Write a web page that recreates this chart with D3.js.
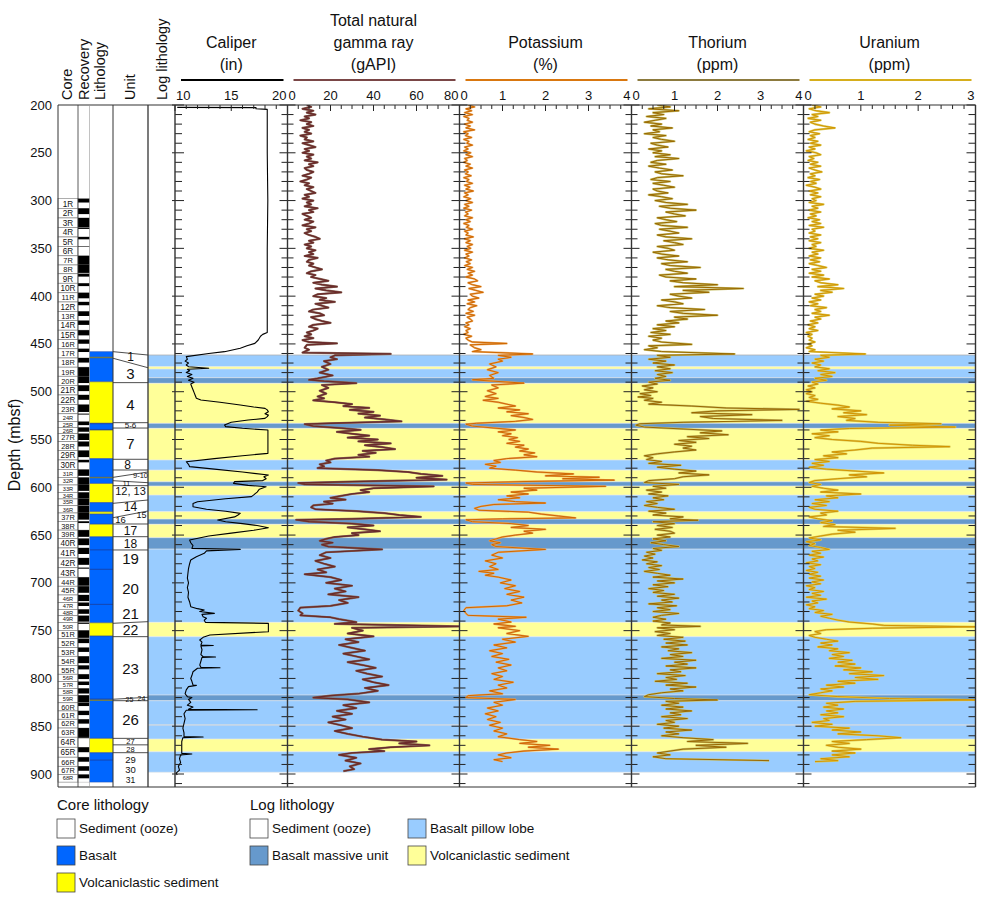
<!DOCTYPE html>
<html><head><meta charset="utf-8">
<script src="https://cdn.jsdelivr.net/npm/d3@7"></script>
<style>body{margin:0;background:#fff;} svg{display:block;font-family:"Liberation Sans",Arial,Helvetica,sans-serif;}</style>
</head><body><svg id="chart" width="988" height="898"></svg>
<script>
// ---------------- DATA ----------------
const depthTicks = [200,250,300,350,400,450,500,550,600,650,700,750,800,850,900];

const coreTops = [298.0,308.1,318.2,328.2,338.1,347.9,357.8,367.4,376.6,386.5,396.5,406.1,415.9,425.6,435.6,445.5,
455.1,464.7,474.3,483.8,493.3,503.4,513.5,523.1,531.3,537.4,543.8,552.2,561.5,571.4,581.4,589.7,597.6,605.3,612.2,
619.3,626.9,635.6,644.8,653.6,663.5,674.0,684.2,694.1,703.5,712.7,720.7,727.7,734.4,741.7,749.7,758.4,767.7,776.8,
786.4,795.6,803.4,810.4,817.6,825.5,834.0,842.7,851.9,861.5,872.0,882.4,891.9,900.5];
const coreBase = 908.5;
const coreNames = coreTops.map((t,i)=>(i+1)+'R');
const coreRecovery = [0.4,0.6,0.95,0.15,0.25,0.05,1.0,0.9,0.3,0.3,0.6,0.35,0.5,0.45,0.55,0.45,0.35,0.5,1.0,0.75,0.6,0.5,
0.8,0.1,0.6,0.7,0.8,0.55,0.7,0.25,0.8,1.0,0.8,1.0,1.0,1.0,0.8,0.2,0.8,0.7,0.6,0.7,0.1,0.95,0.75,0.8,0.5,0.7,0.85,0.15,
0.9,0.5,0.5,0.75,0.45,0.65,0.5,0.75,1.0,0.4,0.5,0.5,1.0,0.1,0.5,0.5,0.55,0.5];

const coreLith = [
 [458,489.5,'basalt'],[463.6,464.6,'volc'],[489.5,533,'volc'],[533,540,'basalt'],[540,570,'volc'],
 [570,596,'basalt'],[589.2,590,'volc'],[596,616,'volc'],[616,625.5,'basalt'],[625.5,628,'volc'],
 [628,638.5,'basalt'],[638.5,651.8,'volc'],[651.8,741.7,'basalt'],[741.7,755.6,'volc'],
 [755.6,862.7,'basalt'],[822.2,823,'volc'],[862.7,877.7,'volc'],[877.7,908.5,'basalt']
];
const basaltLines = [533.5,539.5,665.5,685.8,722.5,821.6,885.4];

const unitBounds = [[458.1,461.6],[465.0,474.9],[490.5,490.5],[532.4,532.4],[538,538],[570.7,570.7],[581.9,581.9],
 [589.6,584],[593.1,595.2],[598.3,598.3],[616.8,613.3],[631.8,624.8],[638.4,638.4],[651.7,651.7],[665.6,665.6],
 [742.3,740.6],[756.3,756.3],[821.8,819.7],[823.3,823.3],[862.7,862.7],[869.5,869.5],[877.7,877.7]];
const unitLabels = [['1',463.8],['3',480.8],['4',513.2],['5-6',535.2],['7',554],['8',576.3],['9-10',587.3],['11',595.6],
 ['12, 13',604.4],['14',620.0],['15',629],['16',634.2],['17',645.2],['18',658.8],['19',674.3],['20',705.7],['21',731.9],
 ['22',749.3],['23',789.4],['24',820.8],['25',821.8],['26',843.5],['27',865.6],['28',874.0],['29',884.4],['30',895.8],['31',906.0]];

const logLith = [
 [461.6,473.8,'pillow'],[473.8,476.2,'volc'],[476.2,485.3,'pillow'],[485.3,491.2,'massive'],[491.2,533,'volc'],
 [533,538.3,'massive'],[538.3,571.4,'volc'],[571.4,582,'pillow'],[582,594.2,'volc'],[594.2,598.7,'massive'],
 [598.7,608.1,'volc'],[608.1,625.5,'pillow'],[625.5,633.2,'volc'],[633.2,638.7,'massive'],[638.7,652.7,'volc'],
 [652.7,664.6,'massive'],[664.6,741.3,'pillow'],[741.3,756.3,'volc'],[756.3,817.3,'pillow'],[817.3,823.3,'massive'],
 [823.3,863.4,'pillow'],[848.3,849.1,'massive'],[863.4,876.7,'volc'],[876.7,898.2,'pillow']
];

const caliper = [[202.5,10.2],[202.7,17.2],[204,17.2],[204.6,18.2],[250,18.2],[300,18.25],[350,18.2],[400,18.2],[438,18.2],
[440,17.8],[442,17.6],[445.9,17.4],[449.4,17.1],[452,16.4],[454.6,15.8],[458.1,14.4],[460,13.0],[463.3,11.0],[466,11.1],
[468,10.9],[470,11.2],[472,11.0],[473.8,11.2],[475.5,13.0],[476.5,11.1],[478,11.3],[480,11.0],[482,11.5],[484,11.1],
[486,11.6],[488,11.2],[490,11.7],[492,11.4],[495,11.5],[498,11.6],[501,11.7],[504,11.8],[506.9,11.9],[508.7,12.3],
[511,14.0],[513.9,15.8],[516,17.0],[517.4,18.0],[519,18.2],[520.9,18.3],[523,18.0],[524.5,18.3],[526.1,18.2],[527.9,18.0],
[529.6,16.5],[532,15.0],[534.8,14.4],[536.5,14.5],[538.3,16.0],[540.1,18.26],[550,18.26],[564.5,18.26],[567,16.0],
[570,13.5],[573.2,11.0],[576,11.2],[578.4,11.3],[581,13.5],[584,16.0],[587.2,18.3],[589,17.9],[591,18.1],[593,17.8],
[594.1,15.3],[595.9,15.2],[598,16.5],[599.4,18.1],[602,17.5],[605,17.3],[608,17.0],[609.8,16.8],[612,14.5],[615.1,12.0],
[617,11.6],[620.3,11.6],[623,12.8],[625,14.5],[627.3,15.8],[629,15.6],[631,15.3],[634.3,13.8],[636,14.5],[638,16.0],
[640,17.3],[642.3,18.3],[645,17.0],[648,15.0],[651,13.0],[655.2,11.3],[658,11.4],[661,11.6],[663.9,11.5],[665,15.8],
[666.5,12.8],[669.1,12.6],[672.6,11.9],[676,11.4],[680,11.3],[685,11.2],[690,11.15],[695,11.1],[700,11.2],[705,11.1],
[710,11.2],[715,11.15],[720,11.3],[724.9,11.4],[727,12.0],[728.4,12.6],[730,12.2],[731.9,13.5],[733,12.4],[735.4,12.5],
[737,12.8],[739,12.6],[741.3,12.7],[742.4,18.3],[751.1,18.3],[754.6,13.1],[757,12.5],[759.8,12.2],[762,12.4],[765,12.3],
[765.5,13.4],[766,12.3],[770,12.4],[775,12.3],[777.2,12.5],[777.6,13.6],[778,12.4],[782,12.3],[786,12.2],[788.4,12.3],
[788.8,14.0],[789.4,12.0],[793,11.6],[797,11.5],[800,11.4],[803,11.5],[806.9,11.6],[807.3,11.9],[808.6,11.2],[812,11.0],
[816,10.9],[819.1,11.1],[820,11.5],[822,11.2],[825,11.4],[828,11.1],[830,11.6],[832.3,11.2],[832.8,17.3],[833.3,11.0],
[837,10.8],[842,10.9],[847,10.8],[852,10.7],[857,10.8],[860.9,10.8],[861.3,12.5],[862,10.7],[866,10.6],[870,10.6],
[874,10.6],[878.4,10.6],[879,11.5],[880,10.5],[884,10.4],[888,10.5],[892,10.3],[896,10.4],[899,10.1],[901,10.2]];

const gammaRay = [[200,9],[202,11],[204,7],[206,12],[208,9],[210,13],[212,8],[214,10],[216,6],[218,11],[220,9],[222,12],
[224,7],[226,10],[228,8],[230,11],[232,6],[234,9],[236,8],[238,12],[240,7],[242,10],[244,13],[246,8],[248,10],[250,7],
[252,12],[254,9],[256,11],[258,8],[260,14],[262,10],[264,12],[266,8],[268,9],[270,12],[272,10],[274,7],[276,11],[278,9],
[280,6],[282,10],[284,8],[286,12],[288,9],[290,11],[292,13],[294,8],[296,10],[298,7],[300,12],[302,9],[304,11],[306,8],
[308,14],[310,10],[312,12],[314,7],[316,9],[318,11],[320,8],[322,12],[324,10],[326,7],[328,13],[330,9],[332,11],[334,8],
[336,10],[338,13],[340,15],[342,10],[344,12],[346,8],[348,11],[350,9],[352,13],[354,10],[356,12],[358,8],[360,14],
[362,10],[364,9],[366,12],[368,10],[370,13],[372,16],[374,11],[376,9],[378,13],[380,11],[382,15],[384,19],[386,12],
[388,16],[390,23],[392,13],[394,18],[396,25],[398,14],[400,12],[402,18],[404,15],[406,22],[408,13],[410,16],[412,19],
[414,12],[416,10],[418,15],[420,17],[422,11],[424,13],[426,16],[428,20],[430,12],[432,10],[434,14],[436,12],[438,9],
[440,11],[442,8],[444,12],
[446,7],[448,10],[449.5,23],[451,9],[454,8],[456,10],[459,7],[460.5,48],[462,22],[464,20],[466,23],[468,17],[471,20],
[474,16],[477,19],[480,15],[483,21],[486,14],[487.5,10],[489,17],[491,32],[493,16],[496,19],[499,15],[502,18],[505,14],
[507,17],[509,12],[511,22],[513,30],[515,26],[517,38],[519,29],[521,40],[523,33],[525,43],[527,36],[529,45],[531,53],
[533,20],[534,8],[536,12],[538,25],[540,34],[542,23],[544,30],[546,38],[548,28],[550,42],[552,33],[554,48],[556,36],
[558,44],[560,50],[562,35],[564,41],[566,33],[568,38],[570,22],[572,18],[574,20],[576,15],[578,17],[580,14],[582,42],
[584,56],[586,62],[588,72],[590,60],[592,74],[594,30],[595.5,5],[597,8],[599,68],[601,40],[603,34],[605,38],[607,30],
[609,25],[611,20],[613,27],[615,17],[617,21],[619,12],[621,11],[623,13],[625,32],[627,45],[629,52],[631,62],[633,30],
[634,4],[636,10],[638,30],[640,40],[642,28],[644,36],[646,43],[648,30],[650,33],[652,22],[654,18],[656,15],[658,21],
[660,16],[662,19],[665,44],[668,18],[671,15],[674,20],[677,13],[680,17],[683,22],[686,14],[689,18],[691,8],[694,20],
[697,25],[700,18],[703,30],[706,22],[709,27],[712,19],[715,33],[718,24],[721,28],[724,20],[726,6],[729,5],[732,7],
[734,6],[736,20],[738,24],[741,32],[743,22],[745.5,80],[747,30],[750,35],[753,28],[756,40],[759,27],[762,33],[765,24],
[768,30],[771,36],[774,26],[777,32],[780,38],[783,28],[786,35],[789,41],[792,32],[795,37],[798,44],[801,35],[804,40],
[807,47],[810,36],[813,42],[816,33],[818,20],[820,12],[822,28],[825,38],[828,26],[831,32],[834,23],[837,30],[840,21],
[843,27],[846,19],[849,25],[852,30],[855,22],[858,28],[861,35],[864,44],[866,60],[868,52],[870,66],[872,48],[874,38],
[876,45],[878,30],[880,24],[883,32],[886,27],[889,34],[892,29],[895,31],[897,26]];

const potassium = [[200,0.2],[202,0.35],[204,0.15],[206,0.28],[208,0.12],[210,0.3],[212,0.1],[214,0.22],[216,0.18],
[218,0.3],[220,0.12],[222,0.25],[224,0.15],[226,0.35],[228,0.1],[230,0.2],[232,0.14],[234,0.28],[236,0.1],[238,0.22],
[240,0.17],[242,0.3],[244,0.12],[246,0.2],[248,0.1],[250,0.26],[252,0.15],[254,0.3],[256,0.12],[258,0.18],[260,0.1],
[262,0.25],[264,0.15],[266,0.3],[268,0.12],[270,0.2],[272,0.14],[274,0.27],[276,0.1],[278,0.22],[280,0.16],[282,0.3],
[284,0.12],[286,0.24],[288,0.15],[290,0.32],[292,0.12],[294,0.2],[296,0.1],[298,0.26],[300,0.15],[302,0.3],[304,0.12],
[306,0.22],[308,0.1],[310,0.28],[312,0.14],[314,0.2],[316,0.12],[318,0.3],[320,0.15],[322,0.25],[324,0.1],[326,0.22],
[328,0.16],[330,0.3],[332,0.12],[334,0.2],[336,0.15],[338,0.32],[340,0.12],[342,0.25],[344,0.15],[346,0.3],[348,0.18],
[350,0.26],[352,0.12],[354,0.3],[356,0.15],[358,0.22],[360,0.12],[362,0.28],[364,0.16],[366,0.25],[368,0.12],[370,0.3],
[372,0.18],[374,0.35],[376,0.2],[378,0.3],[380,0.15],[382,0.35],[384,0.42],[386,0.2],[388,0.3],[390,0.5],[392,0.22],
[394,0.38],[396,0.55],[398,0.25],[400,0.3],[402,0.45],[404,0.2],[406,0.35],[408,0.18],[410,0.4],[412,0.25],[414,0.2],
[416,0.32],[418,0.15],[420,0.35],[422,0.18],[424,0.25],[426,0.3],[428,0.15],[430,0.22],[432,0.12],[434,0.25],[436,0.15],
[438,0.2],[440,0.1],[442,0.28],[444,0.15],
[446,0.2],[448,0.3],[449.5,1.1],[451,0.25],[454,0.35],[456,0.5],[458,0.3],[460.5,1.7],[462,0.9],[464,1.2],
[466,0.9],[468,1.0],[471,0.7],[474,0.85],[477,0.65],[480,0.9],[483,0.7],[486,0.8],[487.5,0.3],[489,0.8],[491,1.5],
[493,0.75],[496,0.9],[499,0.65],[502,0.85],[505,0.6],[507,0.9],[509,0.55],[511,0.9],[513,1.1],[515,1.3],[517,0.9],
[519,1.4],[521,1.1],[523,1.6],[525,1.2],[527,1.5],[529,1.7],[531,1.3],[533,0.4],[534,0.15],[536,0.3],[538,0.8],[540,1.3],
[542,0.9],[544,1.2],[546,1.0],[548,1.35],[550,1.15],[552,1.4],[554,1.1],[556,1.5],[558,1.3],[560,1.6],[562,1.4],
[564,1.75],[566,1.5],[568,1.8],[570,1.1],[572,0.8],[574,0.95],[576,0.6],[578,0.85],[580,0.7],[582,1.3],[584,1.8],
[586,2.65],[588,2.0],[589.5,3.25],[591,2.4],[592.5,3.6],[594,1.5],[595.5,0.15],[597,0.3],[599,3.4],[601,1.5],[603,1.8],
[605,1.2],[607,1.6],[609,1.1],[611,1.4],[613,0.9],[615,1.3],[616.5,2.0],[618,0.8],[620,0.5],[622,0.35],[624,0.45],
[626,1.6],[628,1.9],[630,2.3],[632,2.7],[633,1.0],[634,0.15],[636,0.3],[638,1.2],[640,1.6],[642,1.2],[644,2.0],[646,1.5],
[648,1.7],[650,1.3],[652,1.0],[654,0.85],[656,0.7],[658,0.95],[660,0.75],[662,0.85],[665,2.0],[668,0.9],[671,0.75],
[674,1.0],[677,0.6],[680,0.85],[683,0.7],[686,0.9],[688,0.45],[690,0.8],[692,0.6],[694,0.9],[697,1.2],[700,0.95],
[703,1.3],[706,1.05],[709,1.4],[712,1.1],[715,1.5],[718,1.2],[721,1.45],[724,1.1],[726,0.15],[729,0.1],[732,0.15],
[734,0.2],[736,1.55],[738,0.9],[741,1.2],[743,0.8],[745.5,1.3],[747,0.9],[750,1.4],[753,1.1],[756,1.6],[759,1.0],
[762,1.3],[765,0.8],[768,1.1],[771,0.7],[774,1.0],[777,0.75],[780,1.15],[783,0.85],[786,1.2],[789,0.9],[792,1.1],
[795,0.75],[798,1.0],[801,0.8],[804,1.25],[807,0.9],[810,1.1],[813,0.7],[816,1.0],[818,0.2],[820,0.15],[822,1.3],
[825,0.8],[828,1.0],[831,0.65],[834,0.9],[837,0.6],[840,0.85],[843,0.65],[846,0.95],[849,0.7],[852,1.0],[855,0.8],
[858,1.1],[861,0.9],[864,1.4],[866,1.8],[868,1.4],[870,2.1],[872,1.6],[874,2.3],[876,1.5],[878,1.1],[880,0.9],
[883,1.2],[885,0.8],[887,1.0]];

const thorium = [[200,0.6],[202,0.9],[204,0.4],[206,1.1],[208,0.5],[210,0.75],[212,0.35],[214,0.8],[216,0.55],[218,0.3],
[220,0.7],[222,0.45],[224,0.95],[226,0.5],[228,0.65],[230,0.3],[232,0.8],[234,0.5],[236,0.7],[238,1.0],[240,0.45],
[242,0.6],[244,0.85],[246,0.4],[248,0.7],[250,0.5],[252,0.9],[254,0.55],[256,1.1],[258,0.6],[260,0.45],[262,0.8],
[264,0.4],[266,0.65],[268,0.95],[270,0.55],[272,0.7],[274,1.2],[276,0.6],[278,0.45],[280,0.9],[282,0.5],[284,0.75],
[286,1.0],[288,0.5],[290,0.6],[292,0.85],[294,0.4],[296,0.7],[298,0.95],[300,0.55],[302,0.8],[304,1.3],[306,0.65],
[308,0.9],[310,1.5],[312,0.8],[314,1.0],[316,1.25],[318,0.6],[320,0.8],[322,1.05],[324,0.55],[326,0.7],[328,1.3],
[330,0.65],[332,0.9],[334,1.1],[336,0.6],[338,0.8],[340,1.4],[342,0.75],[344,1.0],[346,1.2],[348,0.6],[350,0.85],
[352,1.0],[354,0.5],[356,0.7],[358,1.1],[360,0.6],[362,0.85],[364,1.3],[366,0.7],[368,0.9],[370,1.6],[372,0.8],
[374,1.0],[376,1.3],[378,0.65],[380,0.8],[382,1.5],[384,0.9],[386,1.2],[388,2.0],[390,1.0],[392,2.6],[394,1.2],
[396,1.8],[398,0.9],[400,1.1],[402,1.4],[404,0.7],[406,1.0],[408,1.2],[410,0.6],[412,0.9],[414,1.7],[416,0.9],
[418,1.2],[420,2.0],[422,1.0],[424,1.3],[426,0.8],[428,1.1],[430,0.6],[432,1.0],[434,0.5],[436,0.8],[438,0.45],
[440,0.9],[442,0.4],[444,0.7],
[446,0.5],[448,0.7],[450.5,1.4],
[452,0.4],[454,0.6],[456,0.3],[458,0.7],[460.5,2.4],[462,0.6],[464,0.9],[466,0.4],[468,0.8],[470,0.5],[472,1.0],
[474,0.6],[476,0.9],[478,0.55],[480,0.95],[482,0.6],[484,0.8],[486,0.55],[488,0.9],[490,0.4],[492,0.6],[494,0.25],
[496,0.5],[498,0.3],[500,0.6],[502,0.2],[504,0.45],[505.5,0.15],[507,0.5],[509,0.3],[511,0.7],[513,0.4],[515,1.4],
[517,2.2],[518.5,3.9],[520,2.0],[522,1.4],[524,2.8],[526,1.6],[528,1.9],[530,3.5],[532,1.2],[533.5,0.2],[535,0.1],
[537,0.3],[539,1.2],[541,2.1],[543,1.6],[545,2.25],[547,1.3],[549,1.8],[551,1.1],[553,1.5],[555,1.0],[557,1.4],
[559,1.2],[561,1.5],[563,1.0],[565,0.6],[567,0.3],[569,0.5],[571,0.35],[573,0.7],[575,0.4],[577,1.15],[579,0.6],
[581,1.0],[583,1.5],[585,1.1],[587,1.8],[589,1.2],[591,1.0],[593,0.4],[595,0.3],[597,1.1],[599,0.5],[601,0.8],
[603,0.35],[605,0.7],[607,0.4],[609,0.85],[611,0.5],[613,0.75],[615,0.35],[617,0.6],[619,0.3],[621,0.6],[623,1.0],
[625,0.4],[627,0.8],[629,0.5],[631,1.2],[633,0.9],[634.5,1.55],[636,0.5],[638,1.0],[640,0.6],[642,0.95],[644,0.55],
[646,0.9],[648,1.0],[650,0.6],[652,0.9],[654,0.5],[656,0.8],[658,0.45],[660,0.75],[662,1.1],[664,0.5],[666,0.7],
[668,0.35],[670,0.55],[672,0.3],[674,0.5],[676,0.25],[678,0.6],[680,0.35],[682,0.7],[684,0.4],[686,0.65],[688,0.3],
[690,0.6],[692,0.9],[694,0.5],[696,1.2],[698,0.6],[700,1.0],[702,0.5],[704,0.85],[706,0.4],[708,0.75],[710,0.5],
[712,1.0],[714,0.6],[716,1.1],[718,0.7],[720,0.95],[722,0.4],[724,1.05],[726,0.6],[728,0.9],[730,0.5],[732,1.1],
[734,0.7],[736,0.5],[738,0.8],[740,0.5],[742,0.9],[744,0.7],[745.5,1.6],[747,0.6],[749,1.0],[751,0.55],[753,0.9],
[755,0.6],[757,1.2],[759,0.75],[761,1.25],[763,0.8],[765,1.3],[767,0.7],[769,1.1],[771,0.85],[773,1.4],[775,0.9],
[777,1.2],[779,0.7],[781,1.5],[783,1.0],[785,1.3],[787,0.8],[789,1.5],[791,0.9],[793,1.15],[795,0.6],[797,1.25],
[799,0.8],[801,1.05],[803,0.55],[805,1.3],[807,0.8],[809,1.5],[811,0.9],[813,1.2],[815,0.7],[817,0.4],[819,0.3],
[821,1.0],[822.5,2.0],[824,0.8],[826,1.1],[828,0.7],[830,1.2],[832,0.8],[834,1.4],[836,0.9],[838,1.15],[840,0.7],
[842,1.3],[844,0.8],[846,1.0],[848,0.6],[850,1.1],[852,0.75],[854,1.4],[856,0.8],[858,1.1],[860,0.7],[862,1.2],
[864,1.9],[866,1.3],[868,2.7],[870,1.5],[872,2.2],[874,1.2],[876,0.9],[878,0.6],[880,0.9],[882,0.5],[884,0.8],[886,3.2]];

const uranium = [[200,0.15],[202,0.3],[204,0.1],[206,0.22],[208,0.45],[210,0.15],[212,0.25],[214,0.08],[216,0.3],
[218,0.12],[220,0.2],[222,0.35],[224,0.55],[226,0.2],[228,0.1],[230,0.28],[232,0.12],[234,0.2],[236,0.08],[238,0.25],
[240,0.12],[242,0.3],[244,0.1],[246,0.2],[248,0.05],[250,0.22],[252,0.3],[254,0.1],[256,0.18],[258,0.08],[260,0.25],
[262,0.12],[264,0.3],[266,0.1],[268,0.2],[270,0.32],[272,0.12],[274,0.2],[276,0.08],[278,0.28],[280,0.12],[282,0.22],
[284,0.05],[286,0.2],[288,0.3],[290,0.1],[292,0.25],[294,0.12],[296,0.3],[298,0.15],[300,0.22],[302,0.1],[304,0.35],
[306,0.15],[308,0.25],[310,0.1],[312,0.3],[314,0.12],[316,0.22],[318,0.08],[320,0.28],[322,0.15],[324,0.3],[326,0.1],
[328,0.35],[330,0.15],[332,0.2],[334,0.1],[336,0.3],[338,0.12],[340,0.25],[342,0.1],[344,0.3],[346,0.15],[348,0.22],
[350,0.1],[352,0.35],[354,0.15],[356,0.25],[358,0.1],[360,0.3],[362,0.12],[364,0.28],[366,0.1],[368,0.25],[370,0.4],
[372,0.15],[374,0.3],[376,0.1],[378,0.35],[380,0.15],[382,0.45],[384,0.2],[386,0.3],[388,0.6],[390,0.25],[392,0.7],
[394,0.3],[396,0.5],[398,0.2],[400,0.35],[402,0.15],[404,0.3],[406,0.1],[408,0.25],[410,0.12],[412,0.4],[414,0.2],
[416,0.3],[418,0.15],[420,0.45],[422,0.2],[424,0.3],[426,0.12],[428,0.25],[430,0.08],[432,0.2],[434,0.1],[436,0.25],
[438,0.05],[440,0.15],[442,0.08],[444,0.15],
[446,0.1],[448,0.2],
[450,0.08],[452,0.15],[454,0.05],[456,0.2],[458,0.1],[460.5,1.08],[462,0.3],[464,0.45],[466,0.2],[468,0.35],[470,0.15],
[472,0.3],[474,0.2],[476,0.45],[478,0.25],[480,0.55],[482,0.3],[484,0.5],[486,0.2],[488,0.4],[490,0.15],[492,0.25],
[494,0.08],[496,0.2],[498,0.05],[500,0.15],[502,0.05],[504,0.2],[506,0.1],[508,0.25],[510,0.05],[512,0.3],[514,0.6],
[516,0.8],[518,0.5],[520,1.0],[522,0.7],[524,1.1],[526,0.6],[528,0.9],[530,0.75],[532,1.3],[533.5,2.4],[535,1.5],
[537,2.65],[538.5,0.8],[540,0.3],[542,0.6],[544,0.15],[546,0.45],[548,0.2],[550,0.5],[552,1.0],[554,1.3],[556,1.9],
[557.5,2.55],[559,1.2],[561,0.9],[563,0.5],[565,0.75],[567,0.35],[569,0.6],[571,0.2],[573,0.45],[575,0.15],[577,0.35],
[579,0.1],[581,0.4],[583,0.9],[585,1.4],[587,0.8],[589,1.1],[591,0.6],[593,0.2],[595,0.1],[597,0.3],[599,0.15],
[601,0.35],[603,0.6],[605,0.3],[607,1.0],[609,0.4],[611,0.6],[613,0.2],[615,0.45],[617,0.15],[619,0.4],[621,0.1],
[623,0.2],[625,0.6],[627,0.3],[629,0.4],[631,0.1],[633,0.25],[635,0.5],[637,0.3],[639,0.55],[641,0.35],[643,1.6],
[645,0.6],[647,0.9],[649,0.5],[651,0.3],[653,0.1],[655,0.3],[657,0.05],[659,0.2],[661,0.1],[663,0.3],[665,0.45],
[667,0.15],[669,0.3],[671,0.1],[673,0.35],[675,0.15],[677,0.25],[679,0.05],[681,0.3],[683,0.1],[685,0.2],[687,0.05],
[689,0.25],[691,0.1],[693,0.3],[695,0.1],[697,0.35],[699,0.15],[701,0.3],[703,0.05],[705,0.2],[707,0.1],[709,0.35],
[711,0.15],[713,0.3],[715,0.05],[717,0.4],[719,0.15],[721,0.25],[723,0.05],[725,0.2],[727,0.1],[729,0.35],[731,0.2],
[733,0.5],[735,0.3],[737,0.45],[739,0.6],[741,0.8],[743,1.2],[744.5,1.4],[746,3.0],[747.5,1.2],[749,0.4],[751,0.2],
[753,0.3],[755,0.1],[757,0.2],[759,0.4],[761,0.6],[763,0.3],[765,0.5],[767,0.25],[769,0.6],[771,0.45],[773,0.8],
[775,0.5],[777,0.7],[779,0.45],[781,0.85],[783,0.6],[785,0.9],[787,0.55],[789,1.0],[791,0.7],[793,1.2],[795,0.8],
[797,1.4],[799,0.9],[801,1.3],[803,0.6],[805,0.9],[807,0.4],[809,0.7],[811,0.3],[813,0.5],[815,0.3],[817,0.1],
[819,0.6],[821,1.5],[822.5,3.0],[824,0.9],[826,0.4],[828,0.6],[830,0.35],[832,0.7],[834,0.4],[836,0.6],[838,0.3],
[840,0.7],[842,0.35],[844,0.45],[846,0.15],[848,0.5],[850,0.2],[852,0.8],[854,0.5],[856,1.0],[858,0.6],[860,1.3],
[862,1.7],[864,1.1],[866,0.5],[868,0.8],[870,0.4],[872,0.6],[874,1.0],[876,0.5],[878,0.9],[880,0.5],[882,0.8],
[884,0.3],[886,0.6],[887,0.2]];

const caliperTicks = [10,15,20];
const gammaTicks = [0,20,40,60,80];
const potassiumTicks = [0,1,2,3,4];
const thoriumTicks = [0,1,2,3,4];
const uraniumTicks = [0,1,2,3];

// ---------------- LAYOUT ----------------
const svg = d3.select('#chart');
const TOP = 105, BOT = 787;
const yS = d3.scaleLinear().domain([200, 913.6]).range([TOP, BOT]);
const X = {core0:58, core1:78, rec1:89.5, lith1:113, unit1:148, log1:175, end:975.5};
const litColors = {pillow:'#99ccff', massive:'#6699cc', volc:'#ffff99'};
const coreColors = {basalt:'#0066ff', volc:'#ffff00'};

const tracks = [
 {data:caliper, x0:175, x1:287.5, domain:[10,20], labels:caliperTicks, minor:1, major:5, head:'#000',
  titles:['Caliper','(in)'], strokes:[{c:'#000', w:1.1}]},
 {data:gammaRay, x0:287.5, x1:459.5, domain:[0,80], labels:gammaTicks, minor:5, major:20, head:'#7a4646',
  titles:['Total natural','gamma ray','(gAPI)'], strokes:[{c:'#8a6a5a', w:2.2},{c:'#6a2a2a', w:1.3}]},
 {data:potassium, x0:459.5, x1:631.5, domain:[0,4], labels:potassiumTicks, minor:0.25, major:1, head:'#d9770f',
  titles:['Potassium','(%)'], strokes:[{c:'#e9a860', w:1.9},{c:'#d06800', w:1.0}]},
 {data:thorium, x0:631.5, x1:803.5, domain:[0,4], labels:thoriumTicks, minor:0.25, major:1, head:'#8c7a3e',
  titles:['Thorium','(ppm)'], strokes:[{c:'#c8c068', w:2.1},{c:'#9a6800', w:1.0}]},
 {data:uranium, x0:803.5, x1:975.5, domain:[0,3], labels:uraniumTicks, minor:0.2, major:1, head:'#d6ae1c',
  titles:['Uranium','(ppm)'], strokes:[{c:'#dccb58', w:2.1},{c:'#d39400', w:1.0}]}
];

// --- log lithology bands (log lith column + all tracks)
const bandG = svg.append('g');
logLith.forEach(b=>{
  bandG.append('rect').attr('x', X.unit1).attr('width', X.end - X.unit1)
    .attr('y', yS(b[0])).attr('height', yS(b[1]) - yS(b[0])).attr('fill', litColors[b[2]]);
});
const bEdges = Array.from(new Set(logLith.flatMap(b=>[b[0],b[1]])));
bEdges.forEach(d=>{
  bandG.append('line').attr('x1', X.unit1).attr('x2', X.end).attr('y1', yS(d)).attr('y2', yS(d))
    .attr('stroke', d===461.6 ? '#b0b0b0' : 'rgba(235,235,235,0.8)').attr('stroke-width', 0.8);
});

// --- core column & recovery
const coreG = svg.append('g');
coreTops.forEach((t,i)=>{
  const b = i < coreTops.length-1 ? coreTops[i+1] : coreBase;
  const y0 = yS(t), y1 = yS(b);
  coreG.append('rect').attr('x', X.core0).attr('y', y0).attr('width', X.core1-X.core0).attr('height', y1-y0)
    .attr('fill','#fff').attr('stroke','#777').attr('stroke-width',0.6);
  coreG.append('rect').attr('x', X.core1).attr('y', y0).attr('width', X.rec1-X.core1).attr('height', y1-y0)
    .attr('fill','#fff').attr('stroke','#aaa').attr('stroke-width',0.5);
  coreG.append('rect').attr('x', X.core1).attr('y', y0).attr('width', X.rec1-X.core1)
    .attr('height', (y1-y0)*coreRecovery[i]).attr('fill','#000');
  const h = y1 - y0;
  const fs = h < 8 ? 6 : (h < 9.3 ? 7.8 : 8.6);
  coreG.append('text').attr('transform', `translate(${(X.core0+X.core1)/2},${(y0+y1)/2 + fs*0.36}) scale(0.95,1)`)
    .attr('text-anchor','middle').attr('font-size', fs).attr('fill','#111').text(coreNames[i]);
});

// --- core lithology
const lithG = svg.append('g');
coreLith.forEach(l=>{
  lithG.append('rect').attr('x', X.rec1).attr('width', X.lith1-X.rec1)
    .attr('y', yS(l[0])).attr('height', Math.max(1, yS(l[1])-yS(l[0]))).attr('fill', coreColors[l[2]]);
});
coreLith.filter(l=>l[2]==='volc' && l[1]-l[0] < 2).forEach(l=>{
  lithG.append('rect').attr('x', X.rec1).attr('width', X.lith1-X.rec1).attr('y', yS(l[0]))
    .attr('height', Math.max(1.2, yS(l[1])-yS(l[0]))).attr('fill','#9a9a20');
});
basaltLines.forEach(d=>{
  lithG.append('line').attr('x1',X.rec1).attr('x2',X.lith1).attr('y1',yS(d)).attr('y2',yS(d))
    .attr('stroke','#1a3d9a').attr('stroke-width',0.8);
});
coreLith.forEach(l=>{
  [l[0],l[1]].forEach(d=>lithG.append('line').attr('x1',X.rec1).attr('x2',X.lith1).attr('y1',yS(d)).attr('y2',yS(d))
    .attr('stroke','#2a4a9a').attr('stroke-width',0.4));
});

// --- units
const unitG = svg.append('g');
unitG.append('rect').attr('x', X.lith1).attr('y', TOP).attr('width', X.unit1-X.lith1).attr('height', BOT-TOP).attr('fill','#fff');
unitBounds.forEach(u=>{
  unitG.append('line').attr('x1', X.lith1).attr('x2', X.unit1).attr('y1', yS(u[0])).attr('y2', yS(u[1]))
    .attr('stroke','#222').attr('stroke-width',0.8);
});
const unitStyle = {'1':{fs:12},'5-6':{fs:8},'8':{fs:12,dx:-3},'9-10':{fs:7.5,dx:10},'11':{fs:7,dx:-4},'12, 13':{fs:11},
 '14':{fs:12},'15':{fs:9,dx:11},'16':{fs:9.5,dx:-10},'24':{fs:7,dx:11},'25':{fs:7,dx:-1},'27':{fs:7.5},'28':{fs:7.5},
 '29':{fs:9.5},'30':{fs:9.5},'31':{fs:8.5},'17':{fs:12},'18':{fs:12},'22':{fs:14}};
unitLabels.forEach(u=>{
  const st = unitStyle[u[0]] || {};
  const fs = st.fs || 15;
  unitG.append('text').attr('x', (X.lith1+X.unit1)/2 + (st.dx||0)).attr('y', yS(u[1]) + fs*0.36)
    .attr('text-anchor','middle').attr('font-size', fs).attr('fill','#111').text(u[0]);
});

// --- tracks
const defs = svg.append('defs');
tracks.forEach((t,ti)=>{
  const xs = d3.scaleLinear().domain(t.domain).range([t.x0, t.x1]);
  const cid = 'clip'+ti;
  defs.append('clipPath').attr('id',cid).append('rect').attr('x',t.x0).attr('y',TOP).attr('width',t.x1-t.x0).attr('height',BOT-TOP);
  const line = d3.line().x(d=>xs(d[1])).y(d=>yS(d[0]));
  const cg = svg.append('g').attr('clip-path',`url(#${cid})`);
  t.strokes.forEach(s=>{
    cg.append('path').datum(t.data).attr('d', line).attr('fill','none').attr('stroke', s.c)
      .attr('stroke-width', s.w).attr('stroke-linejoin','round');
  });
  const n = Math.round((t.domain[1]-t.domain[0])/t.minor);
  for (let k=0;k<=n;k++){
    const v = t.domain[0] + k*t.minor;
    const isMaj = Math.abs(v/t.major - Math.round(v/t.major)) < 1e-6;
    svg.append('line').attr('x1', xs(v)).attr('x2', xs(v)).attr('y1', TOP).attr('y2', TOP + (isMaj?6:4))
      .attr('stroke','#222').attr('stroke-width',1);
  }
  t.labels.forEach((v,k)=>{
    const anchor = k===0 ? 'start' : (k===t.labels.length-1 ? 'end' : 'middle');
    const xx = k===0 ? t.x0+1 : (k===t.labels.length-1 ? t.x1-1 : xs(v));
    svg.append('text').attr('x', xx).attr('y', 100).attr('text-anchor', anchor).attr('font-size', 13).attr('fill','#111').text(v);
  });
  svg.append('line').attr('x1', t.x0+6).attr('x2', t.x1-4).attr('y1', 80).attr('y2', 80)
    .attr('stroke', t.head).attr('stroke-width', 2);
  const cx = (t.x0+t.x1)/2;
  const base = t.titles.length===3 ? 26 : 48;
  t.titles.forEach((s,k)=>{
    svg.append('text').attr('x', cx).attr('y', base + k*22).attr('text-anchor','middle').attr('font-size',16).attr('fill','#111').text(s);
  });
});

// --- depth ticks at track boundaries
const bounds = [175, 287.5, 459.5, 631.5, 803.5, 975.5];
for (let d=200; d<=910; d+=10){
  const yy = yS(d), maj = d%50===0;
  bounds.forEach((bx,i)=>{
    let a, b;
    if (i===0){ a = maj? bx-3 : bx; b = bx + (maj?9:7); }
    else if (i===bounds.length-1){ a = bx - (maj?9:7); b = bx; }
    else { a = bx - (maj?8:6); b = bx + (maj?8:6); }
    svg.append('line').attr('x1',a).attr('x2',b).attr('y1',yy).attr('y2',yy).attr('stroke','#222').attr('stroke-width',1);
  });
}

// --- frame lines
const frameG = svg.append('g').attr('stroke','#333').attr('fill','none');
frameG.append('line').attr('x1',X.core0).attr('x2',X.end).attr('y1',TOP).attr('y2',TOP).attr('stroke-width',1.2);
frameG.append('line').attr('x1',X.core0).attr('x2',X.end).attr('y1',BOT).attr('y2',BOT).attr('stroke-width',1.2);
[[X.core0,1],[X.core1,0.8],[X.rec1,0.6],[X.lith1,1],[X.unit1,1.3],[X.log1,1.4],[287.5,1.4],[459.5,1.4],[631.5,1.4],[803.5,1.4],[X.end,1.4]]
 .forEach(v=>frameG.append('line').attr('x1',v[0]).attr('x2',v[0]).attr('y1',TOP).attr('y2',BOT).attr('stroke-width',v[1])
   .attr('stroke', v[0]===X.rec1 ? '#999' : '#333'));

// --- depth axis labels
depthTicks.forEach(d=>{
  svg.append('text').attr('x',52).attr('y',yS(d)+4.5).attr('text-anchor','end').attr('font-size',13).attr('fill','#111').text(d);
});
svg.append('text').attr('transform','translate(20,445) rotate(-90)').attr('text-anchor','middle').attr('font-size',16).attr('fill','#111').text('Depth (mbsf)');

// --- rotated column headers
[['Core',71.7],['Recovery',88.5],['Lithology',105],['Unit',135],['Log lithology',167]].forEach(h=>{
  svg.append('text').attr('transform',`translate(${h[1]},100) rotate(-90)`).attr('font-size',14.5).attr('fill','#111').text(h[0]);
});

// --- legend
const legG = svg.append('g');
legG.append('text').attr('x',57).attr('y',810).attr('font-size',15).attr('fill','#111').text('Core lithology');
legG.append('text').attr('x',250).attr('y',810).attr('font-size',15).attr('fill','#111').text('Log lithology');
const legItems = [
 {x:57, row:0, fill:'#ffffff', label:'Sediment (ooze)'},
 {x:57, row:1, fill:coreColors.basalt, label:'Basalt'},
 {x:57, row:2, fill:coreColors.volc, label:'Volcaniclastic sediment'},
 {x:250, row:0, fill:'#ffffff', label:'Sediment (ooze)'},
 {x:250, row:1, fill:litColors.massive, label:'Basalt massive unit'},
 {x:408, row:0, fill:litColors.pillow, label:'Basalt pillow lobe'},
 {x:408, row:1, fill:litColors.volc, label:'Volcaniclastic sediment'}
];
legItems.forEach(it=>{
  const yy = 819 + it.row*27;
  legG.append('rect').attr('x',it.x).attr('y',yy).attr('width',18).attr('height',19).attr('fill',it.fill).attr('stroke','#444').attr('stroke-width',0.8);
  legG.append('text').attr('x',it.x+22).attr('y',yy+14).attr('font-size',13.5).attr('fill','#111').text(it.label);
});
</script>
</body></html>
